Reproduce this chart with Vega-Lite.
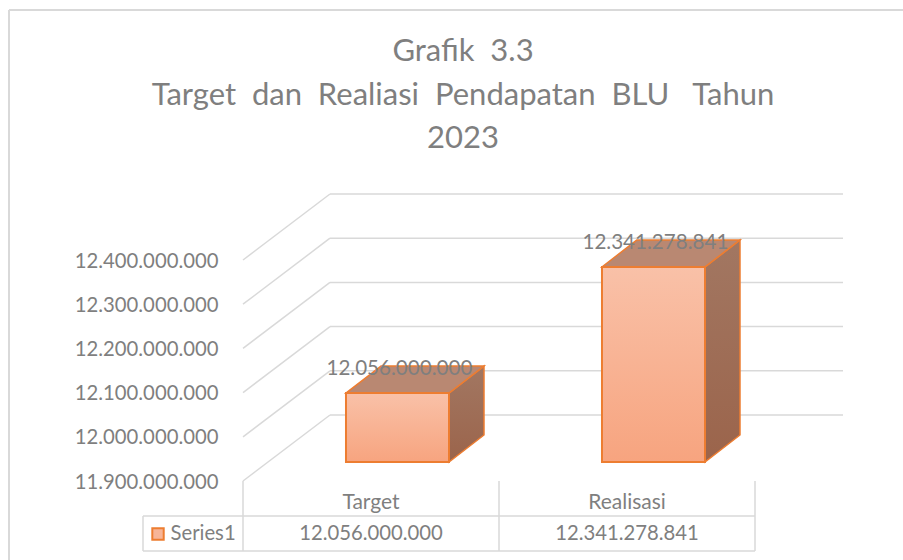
{
"$schema":"https://vega.github.io/schema/vega-lite/v6.json",
"width":903,"height":560,"padding":0,"autosize":{"type":"none"},
"background":"white",
"config":{"view":{"stroke":null},"locale":{"number":{"decimal":",","thousands":".","grouping":[3],"currency":["",""]}},"font":"Lato"},
"title":{"text":["Grafik\u00a0\u00a03.3","Target\u00a0\u00a0dan\u00a0\u00a0Realiasi\u00a0\u00a0Pendapatan\u00a0\u00a0BLU\u00a0\u00a0\u00a0Tahun","2023"],"font":"Lato","fontSize":31,"fontWeight":"normal","color":"#7F7F7F","lineHeight":43.5,"anchor":"middle","frame":"group","dx":11.5,"offset":-179,"baseline":"alphabetic","limit":900},
"datasets":{
"bars":[{"category":"Target","index":0,"value":12056000000},{"category":"Realisasi","index":1,"value":12341278841}],
"ticks":[{"tick":11900000000},{"tick":12000000000},{"tick":12100000000},{"tick":12200000000},{"tick":12300000000},{"tick":12400000000}],
"bounds":[{"b":0},{"b":1},{"b":2}]
},
"layer":[
{"data":{"name":"ticks"},"transform":[{"calculate":"datum.tick+149321267","as":"back"},{"calculate":"0.33984","as":"x0"},{"calculate":"2.34375","as":"x1"}],
 "mark":{"type":"rule","color":"#D9D9D9","strokeWidth":1.5},
 "encoding":{
  "x":{"field":"x0","type":"quantitative","axis":null,"scale":{"domain":[-0.94921875,2.578125],"nice":false,"zero":false}},
  "x2":{"field":"x1"},
  "y":{"field":"back","type":"quantitative","scale":{"domain":[11721266968,12988235294],"nice":false,"zero":false},
   "axis":{"title":null,"values":[11900000000,12000000000,12100000000,12200000000,12300000000,12400000000],"format":",.0f","domain":false,"ticks":false,"grid":false,"labelPadding":-218,"labelAlign":"right","labelFont":"Lato","labelFontSize":20.3,"labelColor":"#7F7F7F","labelOverlap":false,"labelFlush":false,"labelOffset":1}}
 }},
{"data":{"name":"ticks"},"transform":[{"calculate":"datum.tick+149321267","as":"back"},{"calculate":"0","as":"x0"},{"calculate":"0.33984","as":"x1"}],
 "mark":{"type":"rule","color":"#D9D9D9","strokeWidth":1.5},
 "encoding":{"x":{"field":"x0","type":"quantitative"},"x2":{"field":"x1"},"y":{"field":"tick","type":"quantitative"},"y2":{"field":"back"}}},
{"data":{"name":"bounds"},
 "mark":{"type":"rule","color":"#D9D9D9","strokeWidth":1.5},
 "encoding":{"x":{"field":"b","type":"quantitative"},"y":{"datum":11900000000},"y2":{"datum":11741628959}}},
{"mark":{"type":"rule","color":"#D9D9D9","strokeWidth":1.5},"data":{"values":[{"level":11820814480},{"level":11741628959}]},
 "encoding":{"x":{"datum":-0.390625},"x2":{"datum":2},"y":{"field":"level","type":"quantitative"}}},
{"mark":{"type":"rule","color":"#D9D9D9","strokeWidth":1.5},"data":{"values":[{"a":1}]},
 "encoding":{"x":{"datum":-0.390625},"y":{"datum":11820814480},"y2":{"datum":11741628959}}},
{"mark":{"type":"rule","color":"#D9D9D9","strokeWidth":2},"data":{"values":[{"a":1}]},
 "encoding":{"x":{"datum":-0.914},"y":{"datum":11721266968},"y2":{"datum":12965610860}}},
{"mark":{"type":"rule","color":"#D9D9D9","strokeWidth":2},"data":{"values":[{"a":1}]},
 "encoding":{"x":{"datum":-0.914},"x2":{"datum":2.578125},"y":{"datum":12965610860}}},
{"data":{"name":"bars"},
 "transform":[{"calculate":"[0,1]","as":"t"},{"flatten":["t"]},
  {"calculate":"datum.index+0.8047+datum.t*0.1367","as":"sx"},
  {"calculate":"datum.value+42986425+datum.t*61085973","as":"stop"},
  {"calculate":"11900000000+42986425+datum.t*61085973","as":"sbase"}],
 "mark":{"type":"area","stroke":"#ED7D31","strokeWidth":1.5,"color":{"gradient":"linear","x1":0,"y1":0,"x2":0,"y2":1,"stops":[{"offset":0,"color":"#A27762"},{"offset":1,"color":"#9B644B"}]}},
 "encoding":{"x":{"field":"sx","type":"quantitative"},"y":{"field":"stop","type":"quantitative"},"y2":{"field":"sbase"},"detail":{"field":"category"}}},
{"data":{"name":"bars"},
 "transform":[{"calculate":"[0,1]","as":"t"},{"flatten":["t"]},
  {"calculate":"datum.index+0.4023+datum.t*0.1367","as":"tx"},
  {"calculate":"datum.index+0.8047+datum.t*0.1367","as":"tx2"},
  {"calculate":"datum.value+42986425+datum.t*61085973","as":"ty"}],
 "mark":{"type":"area","orient":"horizontal","stroke":"#ED7D31","strokeWidth":1.5,"color":"#B98872"},
 "encoding":{"y":{"field":"ty","type":"quantitative"},"x":{"field":"tx","type":"quantitative"},"x2":{"field":"tx2"},"detail":{"field":"category"}}},
{"data":{"name":"bars"},
 "transform":[{"calculate":"datum.index+0.4023","as":"fx"},{"calculate":"datum.index+0.8047","as":"fx2"},{"calculate":"datum.value+42986425","as":"ft"},{"calculate":"11942986425","as":"fb"}],
 "mark":{"type":"rect","stroke":"#ED7D31","strokeWidth":2,"color":{"gradient":"linear","x1":0,"y1":0,"x2":0,"y2":1,"stops":[{"offset":0,"color":"#F9C1A8"},{"offset":1,"color":"#F7A47F"}]}},
 "encoding":{"x":{"field":"fx","type":"quantitative"},"x2":{"field":"fx2"},"y":{"field":"ft","type":"quantitative"},"y2":{"field":"fb"}}},
{"data":{"name":"bars"},
 "transform":[{"calculate":"datum.index+0.611","as":"lx"},{"calculate":"datum.value+104072398","as":"ly"}],
 "mark":{"type":"text","font":"Lato","fontSize":20.6,"color":"#7F7F7F","yOffset":3,"align":"center","baseline":"middle"},
 "encoding":{"x":{"field":"lx","type":"quantitative"},"y":{"field":"ly","type":"quantitative"},"text":{"field":"value","type":"quantitative","format":",.0f"}}},
{"data":{"name":"bars"},"transform":[{"calculate":"datum.index+0.5","as":"cx"}],
 "mark":{"type":"text","font":"Lato","fontSize":21,"color":"#7F7F7F","yOffset":22,"align":"center","baseline":"middle"},
 "encoding":{"x":{"field":"cx","type":"quantitative"},"y":{"datum":11900000000},"text":{"field":"category","type":"nominal"}}},
{"data":{"name":"bars"},"transform":[{"calculate":"datum.index+0.5","as":"cx"}],
 "mark":{"type":"text","font":"Lato","fontSize":20.3,"color":"#7F7F7F","yOffset":53,"align":"center","baseline":"middle"},
 "encoding":{"x":{"field":"cx","type":"quantitative"},"y":{"datum":11900000000},"text":{"field":"value","type":"quantitative","format":",.0f"}}},
{"data":{"values":[{"series":"Series1"}]},
 "mark":{"type":"point","shape":"square","size":130,"filled":true,"fill":"#F7B598","stroke":"#ED7D31","strokeWidth":2,"opacity":1,"yOffset":53},
 "encoding":{"x":{"datum":-0.332},"y":{"datum":11900000000}}},
{"data":{"values":[{"series":"Series1"}]},
 "mark":{"type":"text","font":"Lato","fontSize":20.3,"color":"#7F7F7F","yOffset":53,"align":"left","baseline":"middle"},
 "encoding":{"x":{"datum":-0.2832},"y":{"datum":11900000000},"text":{"field":"series","type":"nominal"}}}
]
}
